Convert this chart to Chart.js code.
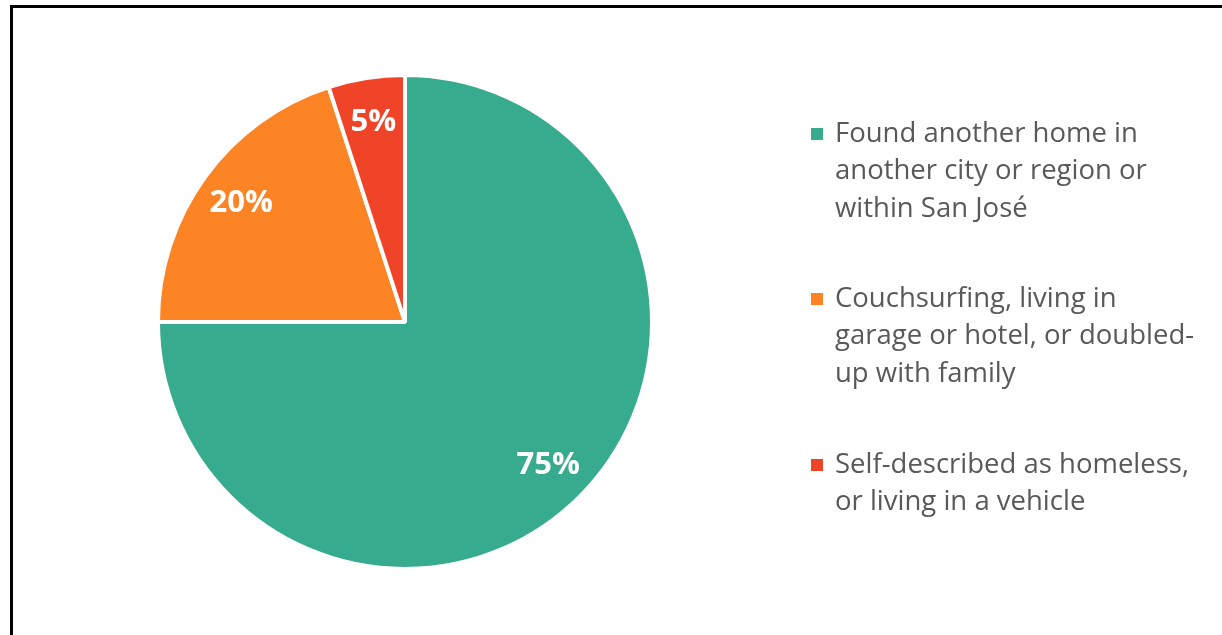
<!DOCTYPE html>
<html>
<head>
<meta charset="utf-8">
<script src="https://cdn.jsdelivr.net/npm/chart.js@4.4.1/dist/chart.umd.min.js"></script>
<style>
  html, body { margin: 0; padding: 0; background: #fff; overflow: hidden; }
  #frame { position: absolute; left: 10px; top: 5px; width: 1300px; height: 700px; border: 3px solid #000; }
  #wrap { position: absolute; left: 0; top: 0; width: 1222px; height: 635px; }
</style>
</head>
<body>
<div id="frame"></div>
<div id="wrap"><canvas id="pieChart"></canvas></div>
<script>
// data
const categories = [
  ['Found another home in', 'another city or region or', 'within San José'],
  ['Couchsurfing, living in', 'garage or hotel, or doubled-', 'up with family'],
  ['Self-described as homeless,', 'or living in a vehicle']
];
const shares = [75, 20, 5];
const sliceColors = ['#36AB8D', '#FD8424', '#EF4428'];

// percent labels on the slices
const sliceLabels = {
  id: 'sliceLabels',
  afterDatasetsDraw(chart) {
    const ctx = chart.ctx;
    const meta = chart.getDatasetMeta(0);
    ctx.save();
    ctx.fillStyle = '#fff';
    ctx.font = 'bold 31px "Open Sans"';
    ctx.textAlign = 'center';
    ctx.textBaseline = 'middle';
    meta.data.forEach((arc, i) => {
      const mid = (arc.startAngle + arc.endAngle) / 2;
      const r = arc.outerRadius * 0.82;
      ctx.fillText(shares[i] + '%', arc.x + Math.cos(mid) * r, arc.y + Math.sin(mid) * r);
    });
    ctx.restore();
  }
};

// multi-line legend on the right
const sideLegend = {
  id: 'sideLegend',
  afterDraw(chart) {
    const ctx = chart.ctx;
    const lineH = 37.5;
    const startY = [134, 299, 465];
    ctx.save();
    ctx.font = '27.5px "Open Sans"';
    ctx.textBaseline = 'middle';
    ctx.textAlign = 'left';
    categories.forEach((lines, i) => {
      ctx.fillStyle = sliceColors[i];
      ctx.fillRect(811, startY[i] - 6, 12, 12);
      ctx.fillStyle = '#595959';
      lines.forEach((t, j) => ctx.fillText(t, 835, startY[i] + j * lineH));
    });
    ctx.restore();
  }
};

new Chart(document.getElementById('pieChart'), {
  type: 'pie',
  data: {
    labels: categories.map(c => c.join(' ')),
    datasets: [{
      data: shares,
      backgroundColor: sliceColors,
      borderColor: '#fff',
      borderWidth: 4
    }]
  },
  options: {
    responsive: true,
    maintainAspectRatio: false,
    animation: false,
    layout: { padding: { left: 156, right: 568, top: 72, bottom: 63 } },
    plugins: {
      legend: { display: false },
      tooltip: { enabled: false }
    }
  },
  plugins: [sliceLabels, sideLegend]
});
</script>
</body>
</html>
